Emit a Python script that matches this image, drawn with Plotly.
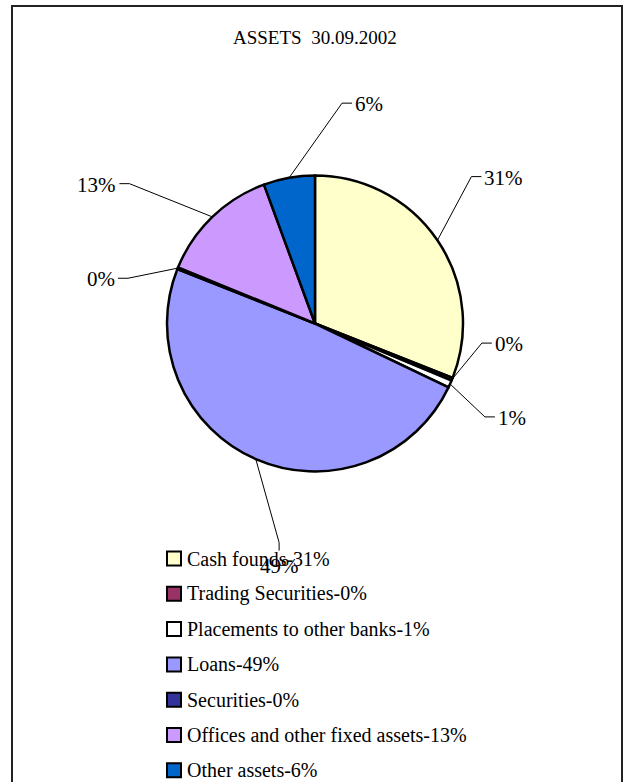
import math
import plotly.graph_objects as go

# Asset structure, 30.09.2002 (shares of total assets, %)
categories = [
    "Cash founds",
    "Trading Securities",
    "Placements to other banks",
    "Loans",
    "Securities",
    "Offices and other fixed assets",
    "Other assets",
]
shares = [31.0, 0.3, 0.8, 48.9, 0.2, 13.2, 5.6]
colors = ["#FFFFCC", "#993366", "#FFFFFF", "#9999FF", "#333399", "#CC99FF", "#0066CC"]

# ---- layout parameters (pixels) ----
W, H = 627, 782
CX, CY, R = 315, 323.5, 148
FONT = "Liberation Serif"

# data-label elbow placement: (angle clockwise from 12 o'clock, distance in pie radii)
label_polar = [(46.8, 1.45), (96.7, 1.135), (118.8, 1.31), (189.3, 1.50),
               (283.6, 1.30), (307.0, 1.57), (7.0, 1.50)]

LEG_X, LEG_Y0, LEG_STEP, LEG_BOX = 167, 558.5, 35.3, 14


def px(x):
    return x / W


def py(y):
    return 1 - y / H


def polar(angle_deg, dist):
    a = math.radians(angle_deg)
    return CX + dist * math.sin(a), CY - dist * math.cos(a)


total = sum(shares)
pct = [round(v / total * 100) for v in shares]

fig = go.Figure(
    go.Pie(
        labels=categories,
        values=shares,
        sort=False,
        direction="clockwise",
        rotation=0,
        marker=dict(colors=colors, line=dict(color="black", width=2.5)),
        textinfo="none",
        hovertemplate="%{label}: %{percent}<extra></extra>",
        showlegend=False,
        domain=dict(x=[px(CX - R), px(CX + R)], y=[py(CY + R), py(CY - R)]),
    )
)

shapes = []
annotations = []

# outer frame
shapes.append(dict(type="rect", xref="paper", yref="paper",
                   x0=px(12), x1=px(622), y0=py(6), y1=py(820),
                   line=dict(color="#222222", width=2), layer="below"))

# title
annotations.append(dict(x=px(315), y=py(38), xref="paper", yref="paper",
                        text="ASSETS  30.09.2002", showarrow=False,
                        font=dict(family=FONT, size=19, color="black"),
                        xanchor="center", yanchor="middle"))

# data labels with leader lines
cum = 0.0
for i, v in enumerate(shares):
    mid = (cum + v / 2) / total * 360
    cum += v
    rx, ry = polar(mid, R)
    ang, dist = label_polar[i]
    ex, ey = polar(ang, dist * R)
    txt = f"{pct[i]}%"
    if 150 < ang < 210:
        tx, ty = ex, ey + 8
        path = f"M{px(rx)},{py(ry)} L{px(ex)},{py(ey)} L{px(tx)},{py(ty)}"
        annotations.append(dict(x=px(tx), y=py(ty + 1), xref="paper", yref="paper",
                                text=txt, showarrow=False,
                                font=dict(family=FONT, size=21, color="black"),
                                xanchor="center", yanchor="top"))
    else:
        sgn = 1 if ex > CX else -1
        tx = ex + sgn * 10
        path = f"M{px(rx)},{py(ry)} L{px(ex)},{py(ey)} L{px(tx)},{py(ey)}"
        annotations.append(dict(x=px(tx + sgn * 1), y=py(ey + 1), xref="paper", yref="paper",
                                text=txt, showarrow=False,
                                font=dict(family=FONT, size=21, color="black"),
                                xanchor="left" if sgn > 0 else "right", yanchor="middle"))
    shapes.append(dict(type="path", xref="paper", yref="paper", path=path,
                       line=dict(color="black", width=1)))

# legend
for i, name in enumerate(categories):
    yc = LEG_Y0 + i * LEG_STEP
    shapes.append(dict(type="rect", xref="paper", yref="paper",
                       x0=px(LEG_X), x1=px(LEG_X + LEG_BOX),
                       y0=py(yc + LEG_BOX / 2), y1=py(yc - LEG_BOX / 2),
                       fillcolor=colors[i], line=dict(color="black", width=2)))
    annotations.append(dict(x=px(LEG_X + LEG_BOX + 4), y=py(yc), xref="paper", yref="paper",
                            text=f"{name}-{pct[i]}%", showarrow=False,
                            font=dict(family=FONT, size=20, color="black"),
                            xanchor="left", yanchor="middle"))

fig.update_layout(
    width=W,
    height=H,
    margin=dict(l=0, r=0, t=0, b=0),
    paper_bgcolor="white",
    plot_bgcolor="white",
    shapes=shapes,
    annotations=annotations,
)

fig.write_html("out.html")
